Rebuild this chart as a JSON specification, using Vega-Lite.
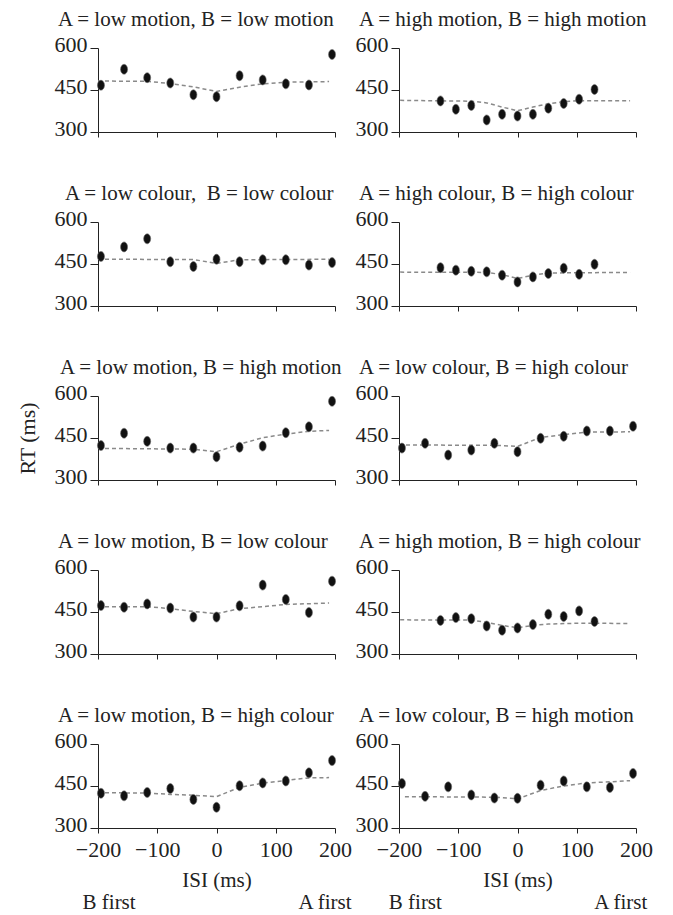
{
  "$schema": "https://vega.github.io/schema/vega-lite/v6.json",
  "background": "white",
  "padding": {"left": 16, "top": 9, "right": 5, "bottom": 0},
  "bounds": "flush",
  "columns": 2,
  "spacing": {"row": 90, "column": 64},
  "data": {"values": [
    {"panel":"r1L","kind":"obs","isi":-195,"rt":467},{"panel":"r1L","kind":"obs","isi":-156,"rt":524},{"panel":"r1L","kind":"obs","isi":-117,"rt":494},{"panel":"r1L","kind":"obs","isi":-78,"rt":475},{"panel":"r1L","kind":"obs","isi":-39,"rt":433},{"panel":"r1L","kind":"obs","isi":0,"rt":426},{"panel":"r1L","kind":"obs","isi":39,"rt":501},{"panel":"r1L","kind":"obs","isi":78,"rt":486},{"panel":"r1L","kind":"obs","isi":117,"rt":472},{"panel":"r1L","kind":"obs","isi":156,"rt":468},{"panel":"r1L","kind":"obs","isi":195,"rt":577},
    {"panel":"r1L","kind":"fit","isi":-200,"rt":482},{"panel":"r1L","kind":"fit","isi":-117,"rt":481},{"panel":"r1L","kind":"fit","isi":-78,"rt":473},{"panel":"r1L","kind":"fit","isi":-39,"rt":461},{"panel":"r1L","kind":"fit","isi":0,"rt":445},{"panel":"r1L","kind":"fit","isi":39,"rt":460},{"panel":"r1L","kind":"fit","isi":78,"rt":472},{"panel":"r1L","kind":"fit","isi":117,"rt":478},{"panel":"r1L","kind":"fit","isi":190,"rt":480},
    {"panel":"r1R","kind":"obs","isi":-130,"rt":411},{"panel":"r1R","kind":"obs","isi":-104,"rt":381},{"panel":"r1R","kind":"obs","isi":-78,"rt":395},{"panel":"r1R","kind":"obs","isi":-52,"rt":343},{"panel":"r1R","kind":"obs","isi":-26,"rt":363},{"panel":"r1R","kind":"obs","isi":0,"rt":357},{"panel":"r1R","kind":"obs","isi":26,"rt":363},{"panel":"r1R","kind":"obs","isi":52,"rt":385},{"panel":"r1R","kind":"obs","isi":78,"rt":402},{"panel":"r1R","kind":"obs","isi":104,"rt":417},{"panel":"r1R","kind":"obs","isi":130,"rt":452},
    {"panel":"r1R","kind":"fit","isi":-198,"rt":413},{"panel":"r1R","kind":"fit","isi":-78,"rt":410},{"panel":"r1R","kind":"fit","isi":-52,"rt":404},{"panel":"r1R","kind":"fit","isi":-26,"rt":389},{"panel":"r1R","kind":"fit","isi":0,"rt":376},{"panel":"r1R","kind":"fit","isi":26,"rt":389},{"panel":"r1R","kind":"fit","isi":52,"rt":401},{"panel":"r1R","kind":"fit","isi":78,"rt":408},{"panel":"r1R","kind":"fit","isi":104,"rt":412},{"panel":"r1R","kind":"fit","isi":190,"rt":412},
    {"panel":"r2L","kind":"obs","isi":-195,"rt":477},{"panel":"r2L","kind":"obs","isi":-156,"rt":511},{"panel":"r2L","kind":"obs","isi":-117,"rt":540},{"panel":"r2L","kind":"obs","isi":-78,"rt":458},{"panel":"r2L","kind":"obs","isi":-39,"rt":441},{"panel":"r2L","kind":"obs","isi":0,"rt":467},{"panel":"r2L","kind":"obs","isi":39,"rt":458},{"panel":"r2L","kind":"obs","isi":78,"rt":465},{"panel":"r2L","kind":"obs","isi":117,"rt":465},{"panel":"r2L","kind":"obs","isi":156,"rt":446},{"panel":"r2L","kind":"obs","isi":195,"rt":455},
    {"panel":"r2L","kind":"fit","isi":-200,"rt":467},{"panel":"r2L","kind":"fit","isi":-39,"rt":466},{"panel":"r2L","kind":"fit","isi":0,"rt":452},{"panel":"r2L","kind":"fit","isi":39,"rt":465},{"panel":"r2L","kind":"fit","isi":190,"rt":467},
    {"panel":"r2R","kind":"obs","isi":-130,"rt":437},{"panel":"r2R","kind":"obs","isi":-104,"rt":428},{"panel":"r2R","kind":"obs","isi":-78,"rt":424},{"panel":"r2R","kind":"obs","isi":-52,"rt":422},{"panel":"r2R","kind":"obs","isi":-26,"rt":410},{"panel":"r2R","kind":"obs","isi":0,"rt":386},{"panel":"r2R","kind":"obs","isi":26,"rt":404},{"panel":"r2R","kind":"obs","isi":52,"rt":416},{"panel":"r2R","kind":"obs","isi":78,"rt":435},{"panel":"r2R","kind":"obs","isi":104,"rt":413},{"panel":"r2R","kind":"obs","isi":130,"rt":449},
    {"panel":"r2R","kind":"fit","isi":-198,"rt":421},{"panel":"r2R","kind":"fit","isi":-52,"rt":420},{"panel":"r2R","kind":"fit","isi":-26,"rt":412},{"panel":"r2R","kind":"fit","isi":0,"rt":398},{"panel":"r2R","kind":"fit","isi":26,"rt":410},{"panel":"r2R","kind":"fit","isi":52,"rt":418},{"panel":"r2R","kind":"fit","isi":190,"rt":420},
    {"panel":"r3L","kind":"obs","isi":-195,"rt":423},{"panel":"r3L","kind":"obs","isi":-156,"rt":467},{"panel":"r3L","kind":"obs","isi":-117,"rt":438},{"panel":"r3L","kind":"obs","isi":-78,"rt":414},{"panel":"r3L","kind":"obs","isi":-39,"rt":414},{"panel":"r3L","kind":"obs","isi":0,"rt":383},{"panel":"r3L","kind":"obs","isi":39,"rt":417},{"panel":"r3L","kind":"obs","isi":78,"rt":421},{"panel":"r3L","kind":"obs","isi":117,"rt":469},{"panel":"r3L","kind":"obs","isi":156,"rt":490},{"panel":"r3L","kind":"obs","isi":195,"rt":581},
    {"panel":"r3L","kind":"fit","isi":-200,"rt":413},{"panel":"r3L","kind":"fit","isi":-39,"rt":410},{"panel":"r3L","kind":"fit","isi":0,"rt":401},{"panel":"r3L","kind":"fit","isi":39,"rt":428},{"panel":"r3L","kind":"fit","isi":78,"rt":451},{"panel":"r3L","kind":"fit","isi":117,"rt":464},{"panel":"r3L","kind":"fit","isi":156,"rt":474},{"panel":"r3L","kind":"fit","isi":190,"rt":477},
    {"panel":"r3R","kind":"obs","isi":-195,"rt":414},{"panel":"r3R","kind":"obs","isi":-156,"rt":431},{"panel":"r3R","kind":"obs","isi":-117,"rt":389},{"panel":"r3R","kind":"obs","isi":-78,"rt":407},{"panel":"r3R","kind":"obs","isi":-39,"rt":431},{"panel":"r3R","kind":"obs","isi":0,"rt":401},{"panel":"r3R","kind":"obs","isi":39,"rt":449},{"panel":"r3R","kind":"obs","isi":78,"rt":456},{"panel":"r3R","kind":"obs","isi":117,"rt":475},{"panel":"r3R","kind":"obs","isi":156,"rt":475},{"panel":"r3R","kind":"obs","isi":195,"rt":492},
    {"panel":"r3R","kind":"fit","isi":-200,"rt":425},{"panel":"r3R","kind":"fit","isi":-39,"rt":424},{"panel":"r3R","kind":"fit","isi":0,"rt":420},{"panel":"r3R","kind":"fit","isi":39,"rt":452},{"panel":"r3R","kind":"fit","isi":78,"rt":462},{"panel":"r3R","kind":"fit","isi":117,"rt":471},{"panel":"r3R","kind":"fit","isi":190,"rt":472},
    {"panel":"r4L","kind":"obs","isi":-195,"rt":473},{"panel":"r4L","kind":"obs","isi":-156,"rt":467},{"panel":"r4L","kind":"obs","isi":-117,"rt":479},{"panel":"r4L","kind":"obs","isi":-78,"rt":464},{"panel":"r4L","kind":"obs","isi":-39,"rt":432},{"panel":"r4L","kind":"obs","isi":0,"rt":432},{"panel":"r4L","kind":"obs","isi":39,"rt":472},{"panel":"r4L","kind":"obs","isi":78,"rt":546},{"panel":"r4L","kind":"obs","isi":117,"rt":495},{"panel":"r4L","kind":"obs","isi":156,"rt":448},{"panel":"r4L","kind":"obs","isi":195,"rt":560},
    {"panel":"r4L","kind":"fit","isi":-200,"rt":469},{"panel":"r4L","kind":"fit","isi":-117,"rt":469},{"panel":"r4L","kind":"fit","isi":-78,"rt":462},{"panel":"r4L","kind":"fit","isi":-39,"rt":452},{"panel":"r4L","kind":"fit","isi":0,"rt":444},{"panel":"r4L","kind":"fit","isi":39,"rt":462},{"panel":"r4L","kind":"fit","isi":78,"rt":469},{"panel":"r4L","kind":"fit","isi":117,"rt":477},{"panel":"r4L","kind":"fit","isi":190,"rt":482},
    {"panel":"r4R","kind":"obs","isi":-130,"rt":420},{"panel":"r4R","kind":"obs","isi":-104,"rt":430},{"panel":"r4R","kind":"obs","isi":-78,"rt":426},{"panel":"r4R","kind":"obs","isi":-52,"rt":400},{"panel":"r4R","kind":"obs","isi":-26,"rt":385},{"panel":"r4R","kind":"obs","isi":0,"rt":393},{"panel":"r4R","kind":"obs","isi":26,"rt":405},{"panel":"r4R","kind":"obs","isi":52,"rt":442},{"panel":"r4R","kind":"obs","isi":78,"rt":434},{"panel":"r4R","kind":"obs","isi":104,"rt":454},{"panel":"r4R","kind":"obs","isi":130,"rt":416},
    {"panel":"r4R","kind":"fit","isi":-198,"rt":422},{"panel":"r4R","kind":"fit","isi":-78,"rt":421},{"panel":"r4R","kind":"fit","isi":-52,"rt":413},{"panel":"r4R","kind":"fit","isi":-26,"rt":402},{"panel":"r4R","kind":"fit","isi":0,"rt":394},{"panel":"r4R","kind":"fit","isi":26,"rt":402},{"panel":"r4R","kind":"fit","isi":52,"rt":407},{"panel":"r4R","kind":"fit","isi":104,"rt":410},{"panel":"r4R","kind":"fit","isi":190,"rt":409},
    {"panel":"r5L","kind":"obs","isi":-195,"rt":424},{"panel":"r5L","kind":"obs","isi":-156,"rt":415},{"panel":"r5L","kind":"obs","isi":-117,"rt":427},{"panel":"r5L","kind":"obs","isi":-78,"rt":441},{"panel":"r5L","kind":"obs","isi":-39,"rt":402},{"panel":"r5L","kind":"obs","isi":0,"rt":374},{"panel":"r5L","kind":"obs","isi":39,"rt":451},{"panel":"r5L","kind":"obs","isi":78,"rt":461},{"panel":"r5L","kind":"obs","isi":117,"rt":468},{"panel":"r5L","kind":"obs","isi":156,"rt":497},{"panel":"r5L","kind":"obs","isi":195,"rt":541},
    {"panel":"r5L","kind":"fit","isi":-200,"rt":426},{"panel":"r5L","kind":"fit","isi":-117,"rt":425},{"panel":"r5L","kind":"fit","isi":-78,"rt":420},{"panel":"r5L","kind":"fit","isi":-39,"rt":417},{"panel":"r5L","kind":"fit","isi":0,"rt":412},{"panel":"r5L","kind":"fit","isi":39,"rt":445},{"panel":"r5L","kind":"fit","isi":78,"rt":460},{"panel":"r5L","kind":"fit","isi":117,"rt":470},{"panel":"r5L","kind":"fit","isi":156,"rt":479},{"panel":"r5L","kind":"fit","isi":190,"rt":480},
    {"panel":"r5R","kind":"obs","isi":-195,"rt":459},{"panel":"r5R","kind":"obs","isi":-156,"rt":413},{"panel":"r5R","kind":"obs","isi":-117,"rt":447},{"panel":"r5R","kind":"obs","isi":-78,"rt":418},{"panel":"r5R","kind":"obs","isi":-39,"rt":407},{"panel":"r5R","kind":"obs","isi":0,"rt":406},{"panel":"r5R","kind":"obs","isi":39,"rt":453},{"panel":"r5R","kind":"obs","isi":78,"rt":468},{"panel":"r5R","kind":"obs","isi":117,"rt":447},{"panel":"r5R","kind":"obs","isi":156,"rt":445},{"panel":"r5R","kind":"obs","isi":195,"rt":495},
    {"panel":"r5R","kind":"fit","isi":-190,"rt":412},{"panel":"r5R","kind":"fit","isi":-39,"rt":410},{"panel":"r5R","kind":"fit","isi":0,"rt":404},{"panel":"r5R","kind":"fit","isi":39,"rt":434},{"panel":"r5R","kind":"fit","isi":78,"rt":450},{"panel":"r5R","kind":"fit","isi":117,"rt":461},{"panel":"r5R","kind":"fit","isi":156,"rt":465},{"panel":"r5R","kind":"fit","isi":190,"rt":469}
  ]},
  "concat": [
    {"title": {"text": "A = low motion, B = low motion", "dx": -40},
     "transform": [{"filter": "datum.panel === 'r1L'"}],
     "encoding": {"x": {"field": "isi", "type": "quantitative", "scale": {"domain": [-200, 200]}, "axis": {"values": [-200, -100, 0, 100, 200], "labels": false, "title": null}},
                  "y": {"field": "rt", "type": "quantitative", "scale": {"domain": [300, 600]}, "axis": {"values": [300, 450, 600], "title": null}}},
     "layer": [
       {"transform": [{"filter": "datum.kind === 'fit'"}], "mark": {"type": "line", "color": "#8a8a8a", "strokeWidth": 1.5, "strokeDash": [4, 3]}},
       {"transform": [{"filter": "datum.kind === 'obs'"}], "mark": {"type": "point", "shape": "M-0.7,0A0.7,1,0,1,0,0.7,0A0.7,1,0,1,0,-0.7,0Z", "size": 100, "filled": true, "color": "#111", "stroke": "#666", "strokeWidth": 0.6, "opacity": 1}}
     ]},
    {"title": {"text": "A = high motion, B = high motion", "dx": -40},
     "transform": [{"filter": "datum.panel === 'r1R'"}],
     "encoding": {"x": {"field": "isi", "type": "quantitative", "scale": {"domain": [-200, 200]}, "axis": {"values": [-200, -100, 0, 100, 200], "labels": false, "title": null}},
                  "y": {"field": "rt", "type": "quantitative", "scale": {"domain": [300, 600]}, "axis": {"values": [300, 450, 600], "title": null}}},
     "layer": [
       {"transform": [{"filter": "datum.kind === 'fit'"}], "mark": {"type": "line", "color": "#8a8a8a", "strokeWidth": 1.5, "strokeDash": [4, 3]}},
       {"transform": [{"filter": "datum.kind === 'obs'"}], "mark": {"type": "point", "shape": "M-0.7,0A0.7,1,0,1,0,0.7,0A0.7,1,0,1,0,-0.7,0Z", "size": 100, "filled": true, "color": "#111", "stroke": "#666", "strokeWidth": 0.6, "opacity": 1}}
     ]},
    {"title": {"text": "A = low colour,\u00a0 B = low colour", "dx": -33},
     "transform": [{"filter": "datum.panel === 'r2L'"}],
     "encoding": {"x": {"field": "isi", "type": "quantitative", "scale": {"domain": [-200, 200]}, "axis": {"values": [-200, -100, 0, 100, 200], "labels": false, "title": null}},
                  "y": {"field": "rt", "type": "quantitative", "scale": {"domain": [300, 600]}, "axis": {"values": [300, 450, 600], "title": null}}},
     "layer": [
       {"transform": [{"filter": "datum.kind === 'fit'"}], "mark": {"type": "line", "color": "#8a8a8a", "strokeWidth": 1.5, "strokeDash": [4, 3]}},
       {"transform": [{"filter": "datum.kind === 'obs'"}], "mark": {"type": "point", "shape": "M-0.7,0A0.7,1,0,1,0,0.7,0A0.7,1,0,1,0,-0.7,0Z", "size": 100, "filled": true, "color": "#111", "stroke": "#666", "strokeWidth": 0.6, "opacity": 1}}
     ]},
    {"title": {"text": "A = high colour, B = high colour", "dx": -40},
     "transform": [{"filter": "datum.panel === 'r2R'"}],
     "encoding": {"x": {"field": "isi", "type": "quantitative", "scale": {"domain": [-200, 200]}, "axis": {"values": [-200, -100, 0, 100, 200], "labels": false, "title": null}},
                  "y": {"field": "rt", "type": "quantitative", "scale": {"domain": [300, 600]}, "axis": {"values": [300, 450, 600], "title": null}}},
     "layer": [
       {"transform": [{"filter": "datum.kind === 'fit'"}], "mark": {"type": "line", "color": "#8a8a8a", "strokeWidth": 1.5, "strokeDash": [4, 3]}},
       {"transform": [{"filter": "datum.kind === 'obs'"}], "mark": {"type": "point", "shape": "M-0.7,0A0.7,1,0,1,0,0.7,0A0.7,1,0,1,0,-0.7,0Z", "size": 100, "filled": true, "color": "#111", "stroke": "#666", "strokeWidth": 0.6, "opacity": 1}}
     ]},
    {"title": {"text": "A = low motion, B = high motion", "dx": -38},
     "transform": [{"filter": "datum.panel === 'r3L'"}],
     "encoding": {"x": {"field": "isi", "type": "quantitative", "scale": {"domain": [-200, 200]}, "axis": {"values": [-200, -100, 0, 100, 200], "labels": false, "title": null}},
                  "y": {"field": "rt", "type": "quantitative", "scale": {"domain": [300, 600]}, "axis": {"values": [300, 450, 600], "title": "RT (ms)"}}},
     "layer": [
       {"transform": [{"filter": "datum.kind === 'fit'"}], "mark": {"type": "line", "color": "#8a8a8a", "strokeWidth": 1.5, "strokeDash": [4, 3]}},
       {"transform": [{"filter": "datum.kind === 'obs'"}], "mark": {"type": "point", "shape": "M-0.7,0A0.7,1,0,1,0,0.7,0A0.7,1,0,1,0,-0.7,0Z", "size": 100, "filled": true, "color": "#111", "stroke": "#666", "strokeWidth": 0.6, "opacity": 1}}
     ]},
    {"title": {"text": "A = low colour, B = high colour", "dx": -40},
     "transform": [{"filter": "datum.panel === 'r3R'"}],
     "encoding": {"x": {"field": "isi", "type": "quantitative", "scale": {"domain": [-200, 200]}, "axis": {"values": [-200, -100, 0, 100, 200], "labels": false, "title": null}},
                  "y": {"field": "rt", "type": "quantitative", "scale": {"domain": [300, 600]}, "axis": {"values": [300, 450, 600], "title": null}}},
     "layer": [
       {"transform": [{"filter": "datum.kind === 'fit'"}], "mark": {"type": "line", "color": "#8a8a8a", "strokeWidth": 1.5, "strokeDash": [4, 3]}},
       {"transform": [{"filter": "datum.kind === 'obs'"}], "mark": {"type": "point", "shape": "M-0.7,0A0.7,1,0,1,0,0.7,0A0.7,1,0,1,0,-0.7,0Z", "size": 100, "filled": true, "color": "#111", "stroke": "#666", "strokeWidth": 0.6, "opacity": 1}}
     ]},
    {"title": {"text": "A = low motion, B = low colour", "dx": -40},
     "transform": [{"filter": "datum.panel === 'r4L'"}],
     "encoding": {"x": {"field": "isi", "type": "quantitative", "scale": {"domain": [-200, 200]}, "axis": {"values": [-200, -100, 0, 100, 200], "labels": false, "title": null}},
                  "y": {"field": "rt", "type": "quantitative", "scale": {"domain": [300, 600]}, "axis": {"values": [300, 450, 600], "title": null}}},
     "layer": [
       {"transform": [{"filter": "datum.kind === 'fit'"}], "mark": {"type": "line", "color": "#8a8a8a", "strokeWidth": 1.5, "strokeDash": [4, 3]}},
       {"transform": [{"filter": "datum.kind === 'obs'"}], "mark": {"type": "point", "shape": "M-0.7,0A0.7,1,0,1,0,0.7,0A0.7,1,0,1,0,-0.7,0Z", "size": 100, "filled": true, "color": "#111", "stroke": "#666", "strokeWidth": 0.6, "opacity": 1}}
     ]},
    {"title": {"text": "A = high motion, B = high colour", "dx": -40},
     "transform": [{"filter": "datum.panel === 'r4R'"}],
     "encoding": {"x": {"field": "isi", "type": "quantitative", "scale": {"domain": [-200, 200]}, "axis": {"values": [-200, -100, 0, 100, 200], "labels": false, "title": null}},
                  "y": {"field": "rt", "type": "quantitative", "scale": {"domain": [300, 600]}, "axis": {"values": [300, 450, 600], "title": null}}},
     "layer": [
       {"transform": [{"filter": "datum.kind === 'fit'"}], "mark": {"type": "line", "color": "#8a8a8a", "strokeWidth": 1.5, "strokeDash": [4, 3]}},
       {"transform": [{"filter": "datum.kind === 'obs'"}], "mark": {"type": "point", "shape": "M-0.7,0A0.7,1,0,1,0,0.7,0A0.7,1,0,1,0,-0.7,0Z", "size": 100, "filled": true, "color": "#111", "stroke": "#666", "strokeWidth": 0.6, "opacity": 1}}
     ]},
    {"title": {"text": "A = low motion, B = high colour", "dx": -40},
     "transform": [{"filter": "datum.panel === 'r5L'"}],
     "encoding": {"x": {"field": "isi", "type": "quantitative", "scale": {"domain": [-200, 200]}, "axis": {"values": [-200, -100, 0, 100, 200], "title": ["ISI (ms)", "B first\u00a0\u00a0\u00a0\u00a0\u00a0\u00a0\u00a0\u00a0\u00a0\u00a0\u00a0\u00a0\u00a0\u00a0\u00a0\u00a0\u00a0\u00a0\u00a0\u00a0\u00a0\u00a0\u00a0\u00a0\u00a0\u00a0\u00a0\u00a0\u00a0\u00a0\u00a0A first"]}},
                  "y": {"field": "rt", "type": "quantitative", "scale": {"domain": [300, 600]}, "axis": {"values": [300, 450, 600], "title": null}}},
     "layer": [
       {"transform": [{"filter": "datum.kind === 'fit'"}], "mark": {"type": "line", "color": "#8a8a8a", "strokeWidth": 1.5, "strokeDash": [4, 3]}},
       {"transform": [{"filter": "datum.kind === 'obs'"}], "mark": {"type": "point", "shape": "M-0.7,0A0.7,1,0,1,0,0.7,0A0.7,1,0,1,0,-0.7,0Z", "size": 100, "filled": true, "color": "#111", "stroke": "#666", "strokeWidth": 0.6, "opacity": 1}}
     ]},
    {"title": {"text": "A = low colour, B = high motion", "dx": -40},
     "transform": [{"filter": "datum.panel === 'r5R'"}],
     "encoding": {"x": {"field": "isi", "type": "quantitative", "scale": {"domain": [-200, 200]}, "axis": {"values": [-200, -100, 0, 100, 200], "title": ["ISI (ms)", "\u00a0\u00a0\u00a0B first\u00a0\u00a0\u00a0\u00a0\u00a0\u00a0\u00a0\u00a0\u00a0\u00a0\u00a0\u00a0\u00a0\u00a0\u00a0\u00a0\u00a0\u00a0\u00a0\u00a0\u00a0\u00a0\u00a0\u00a0\u00a0\u00a0\u00a0\u00a0\u00a0A first"]}},
                  "y": {"field": "rt", "type": "quantitative", "scale": {"domain": [300, 600]}, "axis": {"values": [300, 450, 600], "title": null}}},
     "layer": [
       {"transform": [{"filter": "datum.kind === 'fit'"}], "mark": {"type": "line", "color": "#8a8a8a", "strokeWidth": 1.5, "strokeDash": [4, 3]}},
       {"transform": [{"filter": "datum.kind === 'obs'"}], "mark": {"type": "point", "shape": "M-0.7,0A0.7,1,0,1,0,0.7,0A0.7,1,0,1,0,-0.7,0Z", "size": 100, "filled": true, "color": "#111", "stroke": "#666", "strokeWidth": 0.6, "opacity": 1}}
     ]}
  ],
  "config": {
    "font": "Liberation Serif",
    "view": {"stroke": null, "continuousWidth": 237, "continuousHeight": 84},
    "axis": {"grid": false, "domainColor": "#222", "tickColor": "#222", "labelColor": "#222", "titleColor": "#222", "labelFont": "Liberation Serif", "titleFont": "Liberation Serif", "labelFontSize": 22, "titleFontSize": 21, "titleFontWeight": "normal", "domainWidth": 1, "tickWidth": 1},
    "axisX": {"tickSize": 5, "labelPadding": 6, "titlePadding": 9, "titleLineHeight": 22, "labelFlush": false},
    "axisY": {"tickSize": 8, "labelPadding": 3, "labelBaseline": "middle", "labelOffset": -4, "titlePadding": 15, "titleFontSize": 22},
    "title": {"fontSize": 21, "fontWeight": "normal", "font": "Liberation Serif", "anchor": "start", "frame": "group", "color": "#222", "baseline": "alphabetic", "offset": 3}
  }
}
